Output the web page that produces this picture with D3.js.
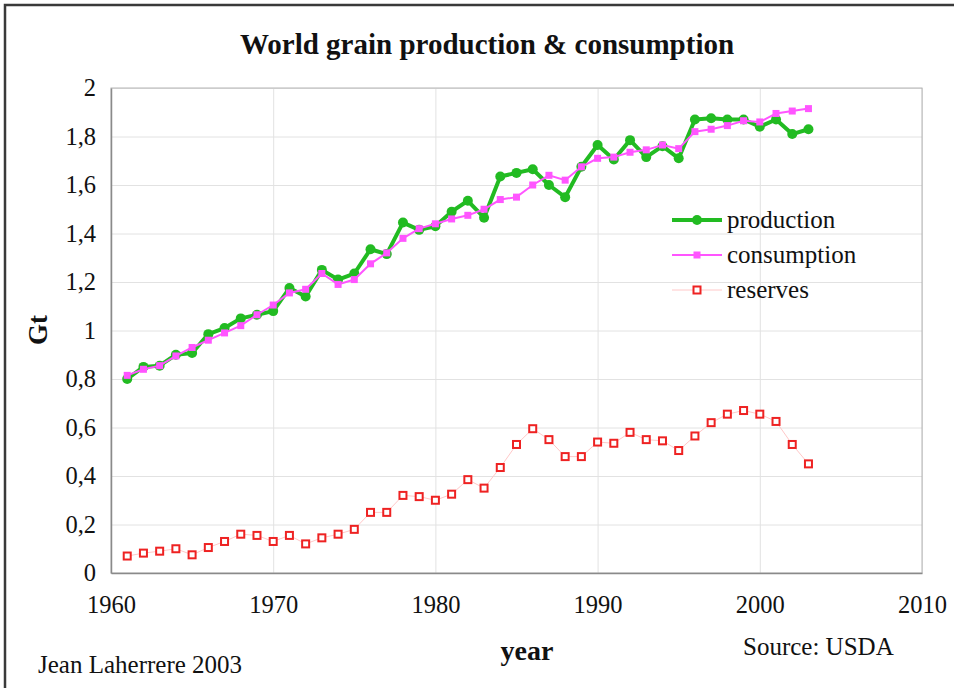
<!DOCTYPE html>
<html>
<head>
<meta charset="utf-8">
<script src="https://cdn.jsdelivr.net/npm/d3@7"></script>
<style>
  body { margin: 0; background: #fff; }
  svg { display: block; }
  svg text { font-family: "Liberation Serif", "Times New Roman", "DejaVu Serif", serif; fill: #111; }
</style>
</head>
<body>
<svg width="954" height="688"></svg>
<script>
// Data (Gt)
const years = d3.range(1961, 2004);
const production = [0.80, 0.85, 0.855, 0.90, 0.907, 0.985, 1.01, 1.05, 1.065, 1.08,
  1.175, 1.14, 1.25, 1.21, 1.235, 1.335, 1.315, 1.445, 1.415, 1.43,
  1.49, 1.535, 1.465, 1.635, 1.65, 1.665, 1.60, 1.55, 1.675, 1.765,
  1.705, 1.785, 1.715, 1.76, 1.71, 1.87, 1.875, 1.87, 1.87, 1.84,
  1.87, 1.81, 1.83];
const consumption = [0.815, 0.84, 0.855, 0.895, 0.93, 0.96, 0.99, 1.02, 1.065, 1.105,
  1.155, 1.17, 1.235, 1.19, 1.21, 1.275, 1.32, 1.38, 1.42, 1.44,
  1.46, 1.475, 1.50, 1.54, 1.55, 1.60, 1.64, 1.62, 1.675, 1.71,
  1.715, 1.735, 1.745, 1.765, 1.75, 1.82, 1.83, 1.845, 1.865, 1.86,
  1.895, 1.905, 1.915];
const reserves = [0.07, 0.082, 0.09, 0.10, 0.075, 0.105, 0.13, 0.16, 0.155, 0.13,
  0.155, 0.12, 0.145, 0.16, 0.18, 0.25, 0.25, 0.32, 0.315, 0.30,
  0.325, 0.385, 0.35, 0.435, 0.53, 0.595, 0.55, 0.48, 0.48, 0.54,
  0.535, 0.58, 0.55, 0.545, 0.505, 0.565, 0.62, 0.655, 0.67, 0.655,
  0.625, 0.53, 0.45];
const xTicks = [1960, 1970, 1980, 1990, 2000, 2010];
const yTicks = [0, 0.2, 0.4, 0.6, 0.8, 1, 1.2, 1.4, 1.6, 1.8, 2];

const svg = d3.select('svg');
const plot = {left: 111, right: 922, top: 88, bottom: 573};

// outer frame
svg.append('rect')
  .attr('x', 5).attr('y', 5).attr('width', 970).attr('height', 700)
  .attr('fill', 'none').attr('stroke', '#3a3a3a').attr('stroke-width', 2.5);

const x = d3.scaleLinear().domain([1960, 2010]).range([plot.left, plot.right]);
const y = d3.scaleLinear().domain([0, 2]).range([plot.bottom, plot.top]);
const fmt = d => String(+d.toFixed(1)).replace('.', ',');

// grid
svg.append('g')
  .attr('transform', `translate(0,${plot.bottom})`)
  .call(d3.axisBottom(x).tickValues(xTicks).tickSize(-(plot.bottom - plot.top)).tickFormat(''))
  .call(g => g.select('.domain').remove())
  .call(g => g.selectAll('line').attr('stroke', '#e2e2e2'));
svg.append('g')
  .attr('transform', `translate(${plot.left},0)`)
  .call(d3.axisLeft(y).tickValues(yTicks).tickSize(-(plot.right - plot.left)).tickFormat(''))
  .call(g => g.select('.domain').remove())
  .call(g => g.selectAll('line').attr('stroke', '#e2e2e2'));

// plot border
svg.append('rect')
  .attr('x', plot.left).attr('y', plot.top)
  .attr('width', plot.right - plot.left).attr('height', plot.bottom - plot.top)
  .attr('fill', 'none').attr('stroke', '#b5b5b5');

// axes
svg.append('g')
  .attr('transform', `translate(0,${plot.bottom})`)
  .call(d3.axisBottom(x).tickValues(xTicks).tickSize(0).tickPadding(23).tickFormat(d3.format('d')))
  .call(g => g.select('.domain').attr('stroke', '#8a8a8a').attr('stroke-width', 1.5))
  .call(g => g.selectAll('text').attr('font-size', 24.5));
svg.append('g')
  .attr('transform', `translate(${plot.left},0)`)
  .call(d3.axisLeft(y).tickValues(yTicks).tickSize(0).tickPadding(15).tickFormat(fmt))
  .call(g => g.select('.domain').attr('stroke', '#8a8a8a').attr('stroke-width', 1.5))
  .call(g => g.selectAll('text').attr('font-size', 24.5));

const line = d3.line().x((d, i) => x(years[i])).y(d => y(d));

// reserves
svg.append('path').datum(reserves)
  .attr('d', line).attr('fill', 'none').attr('stroke', '#ffc8c8').attr('stroke-width', 1);
svg.append('g').selectAll('rect').data(reserves).join('rect')
  .attr('x', (d, i) => x(years[i]) - 3.5).attr('y', d => y(d) - 3.5)
  .attr('width', 7).attr('height', 7)
  .attr('fill', '#fff').attr('stroke', '#ee2222').attr('stroke-width', 2);

// production
svg.append('path').datum(production)
  .attr('d', line).attr('fill', 'none').attr('stroke', '#22bb22').attr('stroke-width', 4)
  .attr('stroke-linejoin', 'round');
svg.append('g').selectAll('circle').data(production).join('circle')
  .attr('cx', (d, i) => x(years[i])).attr('cy', d => y(d)).attr('r', 5)
  .attr('fill', '#22bb22');

// consumption
svg.append('path').datum(consumption)
  .attr('d', line).attr('fill', 'none').attr('stroke', '#ff55ff').attr('stroke-width', 2);
svg.append('g').selectAll('rect').data(consumption).join('rect')
  .attr('x', (d, i) => x(years[i]) - 3.5).attr('y', d => y(d) - 3.5)
  .attr('width', 7).attr('height', 7).attr('fill', '#ff55ff');

// legend
const legend = svg.append('g').attr('transform', 'translate(672,220)');
const items = [
  {name: 'production', color: '#22bb22', w: 4},
  {name: 'consumption', color: '#ff55ff', w: 2},
  {name: 'reserves', color: '#ffc8c8', w: 1}
];
items.forEach((it, i) => {
  const g = legend.append('g').attr('transform', `translate(0,${i * 35})`);
  g.append('line').attr('x1', 0).attr('x2', 50).attr('stroke', it.color).attr('stroke-width', it.w);
  if (i === 0) g.append('circle').attr('cx', 25).attr('r', 5).attr('fill', it.color);
  if (i === 1) g.append('rect').attr('x', 21.5).attr('y', -3.5).attr('width', 7).attr('height', 7).attr('fill', it.color);
  if (i === 2) g.append('rect').attr('x', 21.5).attr('y', -3.5).attr('width', 7).attr('height', 7)
    .attr('fill', '#fff').attr('stroke', '#ee2222').attr('stroke-width', 2);
  g.append('text').attr('x', 55).attr('dy', '0.32em').attr('font-size', 25).text(it.name);
});

// texts
svg.append('text').attr('x', 487).attr('y', 54).attr('text-anchor', 'middle')
  .attr('font-size', 29).attr('font-weight', 'bold')
  .text('World grain production & consumption');
svg.append('text').attr('transform', 'translate(47,330) rotate(-90)').attr('text-anchor', 'middle')
  .attr('font-size', 27).attr('font-weight', 'bold').text('Gt');
svg.append('text').attr('x', 527).attr('y', 660).attr('text-anchor', 'middle')
  .attr('font-size', 28).attr('font-weight', 'bold').text('year');
svg.append('text').attr('x', 743).attr('y', 655)
  .attr('font-size', 25).text('Source: USDA');
svg.append('text').attr('x', 38).attr('y', 673)
  .attr('font-size', 25).text('Jean Laherrere 2003');
</script>
</body>
</html>
